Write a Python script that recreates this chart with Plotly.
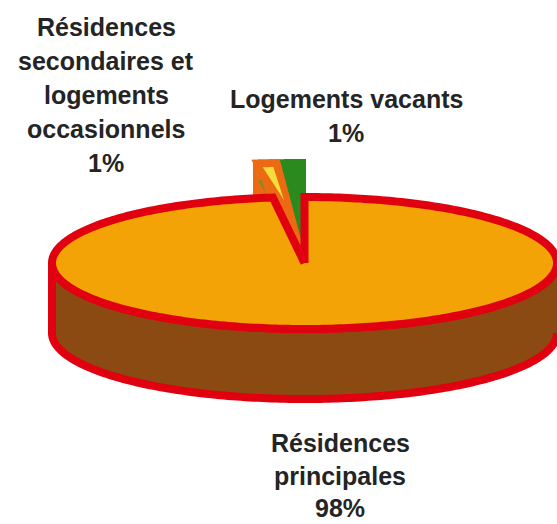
import numpy as np
import plotly.graph_objects as go

# Data
categories = ["Résidences principales", "Résidences secondaires et logements occasionnels", "Logements vacants"]
values = [98, 1, 1]
label_lines = [
    ["Résidences", "principales", "98%"],
    ["Résidences", "secondaires et", "logements", "occasionnels", "1%"],
    ["Logements vacants", "1%"],
]

W, H = 557, 524
CX, CY, RX, RY, DEPTH = 304.5, 263, 252.5, 66, 70
RED, TOP, SIDE = "#E1000F", "#F4A306", "#8B4A12"
ORANGE, YELLOW, GREEN, OLIVE = "#EC6A12", "#F6DC3C", "#2B8A1E", "#8A8A20"
FONT = dict(family="Liberation Sans", size=25, color="#242424", weight="bold")

fractions = np.cumsum([0] + values) / sum(values) * 2 * np.pi


def arc(t0, t1, rx=RX, ry=RY, cx=CX, cy=CY, n=180):
    t = np.linspace(t0, t1, n)
    return cx + rx * np.sin(t), cy - ry * np.cos(t)


def wedge(t0, t1, **kw):
    x, y = arc(t0, t1, **kw)
    cx, cy = kw.get("cx", CX), kw.get("cy", CY)
    return np.r_[cx, x, cx], np.r_[cy, y, cy]


def poly(x, y, fill, line=None, width=0):
    return go.Scatter(x=x, y=y, mode="lines", fill="toself", fillcolor=fill,
                      line=dict(color=line or fill, width=width, simplify=False),
                      hoverinfo="skip", showlegend=False)


fig = go.Figure()

# Exploded small slices, behind the main slice
t_main_end, t_sec_end, t_vac_end = fractions[1], fractions[2], fractions[3]
ex = dict(rx=415, ry=98, cx=305, cy=258, n=30)
x, y = wedge(t_sec_end, t_vac_end, **ex)
fig.add_trace(poly(x, y, GREEN, width=2))
x, y = wedge(t_main_end, t_sec_end, **ex)
fig.add_trace(poly(x, y, ORANGE, width=2))
# wall of the exploded orange slice, hanging below its rim
xr, yr = arc(t_main_end, t_sec_end, **ex)
fig.add_trace(poly(np.r_[xr, xr[::-1]], np.r_[yr, yr[::-1] + DEPTH * 0.6], ORANGE, width=2))
x, y = wedge(t_main_end, t_sec_end, rx=64, ry=15, cx=266, cy=195, n=20)
fig.add_trace(poly(x, y, OLIVE))
x, y = wedge(t_main_end, t_sec_end, rx=170, ry=33, cx=284, cy=200, n=20)
fig.add_trace(poly(x, y, YELLOW))

# Side wall
xf, yf = arc(np.pi / 2, 3 * np.pi / 2)
fig.add_trace(poly(np.r_[xf, xf[::-1]], np.r_[yf, yf[::-1] + DEPTH], SIDE, RED, 8))

# Top face
x, y = wedge(fractions[0], t_main_end, n=360)
fig.add_trace(poly(x, y, TOP, RED, 8))

# Labels, one annotation per line
anchors = [(340, 443, 32.5), (106, 27, 34), (346, 99, 34)]
for lines, (ax, ay, gap) in zip(label_lines, anchors):
    for i, line in enumerate(lines):
        fig.add_annotation(x=ax, y=ay + i * gap, text=line, showarrow=False, font=FONT,
                           xanchor="center", yanchor="middle")

fig.update_layout(
    width=W, height=H, margin=dict(l=0, r=0, t=0, b=0),
    paper_bgcolor="white", plot_bgcolor="white", showlegend=False,
    xaxis=dict(range=[0, W], visible=False, fixedrange=True),
    yaxis=dict(range=[H, 0], visible=False, fixedrange=True),
)
fig.write_html("out.html", config=dict(displayModeBar=False),
               post_script="document.body.style.margin='0';")
